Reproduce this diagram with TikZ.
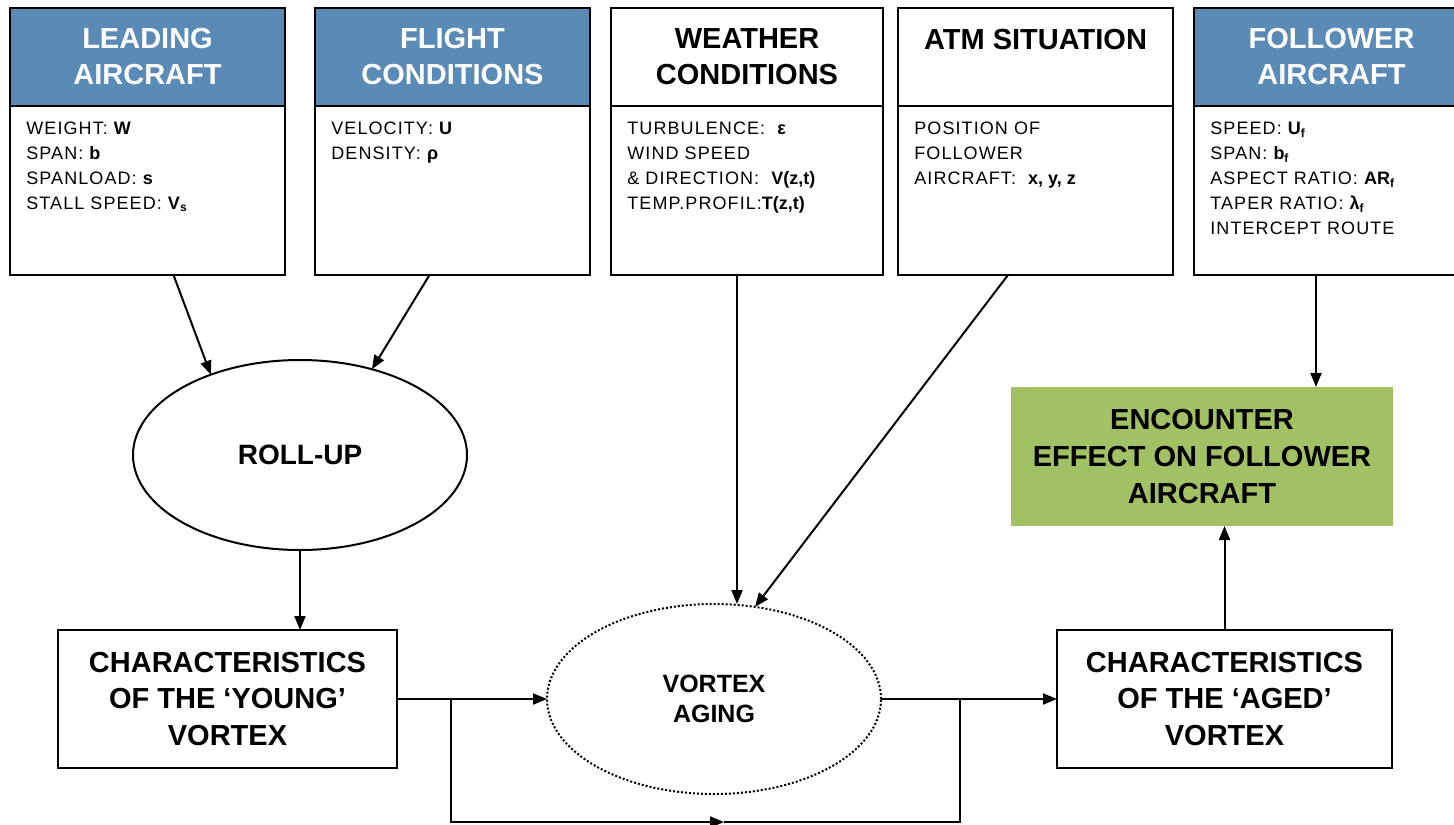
\documentclass[tikz,border=0pt]{standalone}
\usepackage{fontspec}
\setmainfont{Liberation Sans}
\newfontfamily\spacedfont[LetterSpace=6]{Liberation Sans}
\usetikzlibrary{positioning,calc,shapes.geometric,arrows.meta}
\definecolor{headblue}{HTML}{5A8AB6}
\definecolor{effectgreen}{HTML}{A2C164}
\newcommand{\val}[1]{{\normalfont\bfseries #1}}% bold value
\tikzstyle{headbox} = [
    draw=black,
    line width=1pt,
    rectangle,
    anchor=north west,
    outer sep=0pt,
    inner sep=0pt,
    minimum width=137.5pt,
    minimum height=49pt,
    align=center,
    font=\bfseries\fontsize{14.5}{18}\selectfont
    ]
\tikzstyle{bluehead} = [headbox, fill=headblue, text=white]
\tikzstyle{bodybox} = [
    draw=black,
    line width=1pt,
    rectangle,
    outer sep=0pt,
    inner sep=0pt,
    minimum width=137.5pt,
    minimum height=84.5pt
    ]
\tikzstyle{infotext} = [
    anchor=north west,
    align=left,
    inner sep=0pt,
    font=\spacedfont\fontsize{9}{12.5}\selectfont
    ]
\tikzstyle{charbox} = [
    draw=black,
    line width=1pt,
    rectangle,
    outer sep=0pt,
    minimum width=169.5pt,
    minimum height=69pt,
    align=center,
    font=\bfseries\fontsize{14.5}{18.3}\selectfont
    ]
\tikzstyle{process} = [
    draw=black,
    line width=1pt,
    ellipse,
    outer sep=0pt,
    minimum width=167pt,
    minimum height=95pt,
    align=center,
    font=\bfseries\fontsize{14}{15}\selectfont
    ]
\tikzstyle{arr} = [-{Triangle[length=7pt,width=5.5pt]}, line width=1pt]

\begin{document}
\begin{tikzpicture}[x=0.5pt, y=-0.5pt]
\useasboundingbox (0,0) rectangle (1454,824);

% input boxes
\node[bluehead] (leadhead) at (10,8) {LEADING\\AIRCRAFT};
\node[bodybox, below=0pt of leadhead] (leadbody) {};
\node[infotext] (leadinfo) at ($(leadbody.north west)+(16,16)$) {WEIGHT: \val{W}\\SPAN: \val{b}\\SPANLOAD: \val{s}\\STALL SPEED: \val{V\textsubscript{s}}};

\node[bluehead] (flighthead) at (315,8) {FLIGHT\\CONDITIONS};
\node[bodybox, below=0pt of flighthead] (flightbody) {};
\node[infotext] (flightinfo) at ($(flightbody.north west)+(16,16)$) {VELOCITY: \val{U}\\DENSITY: \val{ρ}};

\node[headbox, minimum width=136pt] (weatherhead) at (611,8) {WEATHER\\CONDITIONS};
\node[bodybox, minimum width=136pt, below=0pt of weatherhead] (weatherbody) {};
\node[infotext] (weatherinfo) at ($(weatherbody.north west)+(16,16)$) {TURBULENCE:\ \ \val{ε}\\WIND SPEED\\\& DIRECTION:\ \ \val{V(z,t)}\\TEMP.PROFIL:\val{T(z,t)}};

\node[headbox] (atmhead) at (898,8) {ATM SITUATION\\\phantom{A}};
\node[bodybox, below=0pt of atmhead] (atmbody) {};
\node[infotext] (atminfo) at ($(atmbody.north west)+(16,16)$) {POSITION OF\\FOLLOWER\\AIRCRAFT:\ \ \val{x, y, z}};

\node[bluehead] (follhead) at (1194,8) {FOLLOWER\\AIRCRAFT};
\node[bodybox, below=0pt of follhead] (follbody) {};
\node[infotext] (follinfo) at ($(follbody.north west)+(16,16)$) {SPEED: \val{U\textsubscript{f}}\\SPAN: \val{b\textsubscript{f}}\\ASPECT RATIO:\ \val{AR\textsubscript{f}}\\TAPER RATIO:\ \val{λ\textsubscript{f}}\\INTERCEPT ROUTE};

% process chain
\node[process] (rollup) at (300,455) {ROLL-UP};
\node[process, densely dotted, font=\bfseries\fontsize{12.5}{15}\selectfont] (aging) at (714,699) {VORTEX\\AGING};
\node[charbox] (young) at (227.5,699) {CHARACTERISTICS\\OF THE ‘YOUNG’\\VORTEX};
\node[charbox, minimum width=167.5pt] (aged) at (1224.5,699) {CHARACTERISTICS\\OF THE ‘AGED’\\VORTEX};
\node[charbox, draw=none, fill=effectgreen, minimum width=191pt, minimum height=69.5pt] (effect) at (1202,456.5) {ENCOUNTER\\EFFECT ON FOLLOWER\\AIRCRAFT};

% connectors
\draw[arr] ($(leadbody.south)+(26,0)$) -- (rollup.138);
\draw[arr] ($(flightbody.south)+(-23,0)$) -- (rollup.50);
\draw[arr] ($(weatherbody.south)+(-10,0)$) coordinate (wfoot) -- (wfoot |- aging.north);
\draw[arr] ($(atmbody.south)+(-27.5,0)$) -- (aging.66);
\draw[arr] ($(follbody.south)+(-15.5,0)$) coordinate (ffoot) -- (ffoot |- effect.north);
\draw[arr] (rollup.south) -- (rollup.south |- young.north);
\draw[arr] (young.east) -- (aging.west);
\draw[arr] (aging.east) -- (aged.west);
\draw[arr] (aged.north) -- (aged.north |- effect.south);

% bypass
\coordinate (loopa) at ($(young.east)!0.36!(aging.west)$);
\coordinate (loopb) at ($(aging.east)!0.45!(aged.west)$);
\coordinate (loopm) at (724,822);
\draw[arr] (loopa) |- (loopm);
\draw[line width=1pt] (loopm) -| (loopb);
\end{tikzpicture}
\end{document}
